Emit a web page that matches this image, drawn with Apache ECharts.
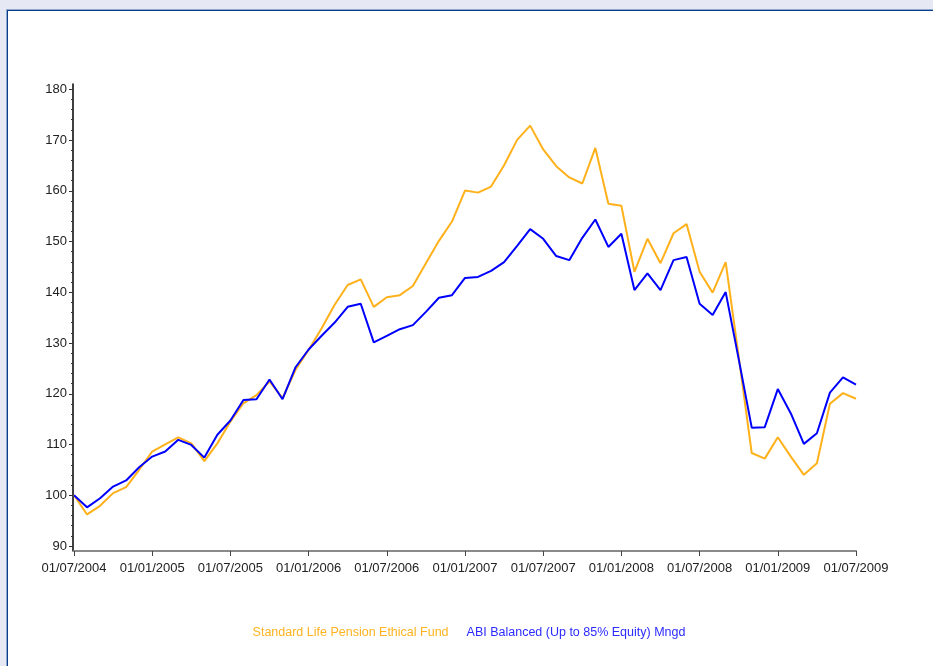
<!DOCTYPE html>
<html>
<head>
<meta charset="utf-8">
<script src="https://cdn.jsdelivr.net/npm/echarts@6/dist/echarts.min.js"></script>
<style>
  html, body { margin: 0; padding: 0; width: 933px; height: 666px; overflow: hidden; background: #e6e9f3; }
  #frame { position: absolute; left: 6px; top: 9px; width: 940px; height: 680px; background: #ffffff;
           border-left: 1px solid #8fa6cf; border-top: 1px solid #8fa6cf; box-shadow: inset 1px 1px 0 #0a3f88; }
  #chart { position: absolute; left: 0; top: 0; width: 933px; height: 666px; }
</style>
</head>
<body>
<div id="frame"></div>
<div id="chart"></div>
<script>
const categories = [
  "01/07/2004","01/08/2004","01/09/2004","01/10/2004","01/11/2004","01/12/2004",
  "01/01/2005","01/02/2005","01/03/2005","01/04/2005","01/05/2005","01/06/2005",
  "01/07/2005","01/08/2005","01/09/2005","01/10/2005","01/11/2005","01/12/2005",
  "01/01/2006","01/02/2006","01/03/2006","01/04/2006","01/05/2006","01/06/2006",
  "01/07/2006","01/08/2006","01/09/2006","01/10/2006","01/11/2006","01/12/2006",
  "01/01/2007","01/02/2007","01/03/2007","01/04/2007","01/05/2007","01/06/2007",
  "01/07/2007","01/08/2007","01/09/2007","01/10/2007","01/11/2007","01/12/2007",
  "01/01/2008","01/02/2008","01/03/2008","01/04/2008","01/05/2008","01/06/2008",
  "01/07/2008","01/08/2008","01/09/2008","01/10/2008","01/11/2008","01/12/2008",
  "01/01/2009","01/02/2009","01/03/2009","01/04/2009","01/05/2009","01/06/2009",
  "01/07/2009"
];
const seriesNames = ["Standard Life Pension Ethical Fund", "ABI Balanced (Up to 85% Equity) Mngd"];
const ethicalFund = [
  100, 96.2, 97.9, 100.4, 101.6, 105.0, 108.6, 110.0, 111.4, 110.2, 106.7, 110.2,
  114.5, 118.1, 119.7, 122.4, 119.1, 124.7, 128.6, 132.9, 137.5, 141.4, 142.5, 137.1,
  139.0, 139.4, 141.2, 145.7, 150.1, 153.9, 160.0, 159.6, 160.8, 165.0, 170.0, 172.8,
  168.1, 164.8, 162.6, 161.4, 168.4, 157.4, 157.0, 144.0, 150.5, 145.7, 151.6, 153.4,
  144.0, 139.9, 145.9, 127.3, 108.3, 107.2, 111.4, 107.6, 104.0, 106.3, 118.0, 120.1,
  119.0
];
const abiBalanced = [
  100, 97.6, 99.4, 101.7, 102.9, 105.5, 107.6, 108.6, 110.9, 109.9, 107.4, 111.9,
  114.7, 118.75, 118.9, 122.8, 118.9, 125.2, 128.7, 131.4, 134.0, 137.1, 137.7, 130.1,
  131.4, 132.7, 133.5, 136.1, 138.9, 139.4, 142.8, 143.0, 144.2, 145.9, 149.1, 152.4,
  150.5, 147.1, 146.3, 150.7, 154.3, 148.9, 151.5, 140.4, 143.7, 140.4, 146.3, 146.9,
  137.7, 135.5, 140.0, 126.8, 113.3, 113.4, 120.9, 116.1, 110.1, 112.2, 120.2, 123.2,
  121.8
];
const seriesColors = ["#ffb11b", "#0000ff"];
const legendColors = ["#ffb31f", "#2b2bff"];

const font = "'Liberation Sans', Arial, sans-serif";
const chart = echarts.init(document.getElementById('chart'), null, { renderer: 'canvas' });
chart.setOption({
  animation: false,
  backgroundColor: 'transparent',
  legend: {
    left: 'center',
    top: 621,
    icon: 'rect',
    itemWidth: 0,
    itemHeight: 0,
    itemGap: 13,
    textStyle: { fontFamily: font, fontSize: 12.5 },
    data: seriesNames.map((n, i) => ({ name: n, textStyle: { color: legendColors[i] } }))
  },
  grid: [
    { left: 74, right: 77, top: 84, bottom: 115 },
    { left: 74, right: 77, top: 89.3, bottom: 120 }
  ],
  xAxis: [
    {
      gridIndex: 0, type: 'category', data: categories, boundaryGap: false,
      axisLine: { show: true, lineStyle: { color: '#8a8a8a', width: 2 } },
      axisTick: { show: true, interval: 5, length: 5, lineStyle: { color: '#444', width: 1 } },
      axisLabel: { interval: 5, margin: 11, color: '#222', fontFamily: font, fontSize: 13 },
      splitLine: { show: false }
    },
    { gridIndex: 1, type: 'category', data: categories, boundaryGap: false, show: false }
  ],
  yAxis: [
    {
      gridIndex: 0, type: 'value', min: 89, max: 181, offset: 1,
      axisLine: { show: true, lineStyle: { color: '#000', width: 1.5 } },
      axisTick: { show: false }, axisLabel: { show: false }, splitLine: { show: false }
    },
    {
      gridIndex: 1, type: 'value', min: 90, max: 180, interval: 10, offset: 1,
      axisLine: { show: false },
      axisTick: { show: true, length: 4, lineStyle: { color: '#333', width: 1 } },
      minorTick: { show: true, splitNumber: 5, length: 2, lineStyle: { color: '#333', width: 1 } },
      axisLabel: { margin: 6, color: '#222', fontFamily: font, fontSize: 13 },
      splitLine: { show: false }, minorSplitLine: { show: false }
    }
  ],
  series: [
    {
      name: seriesNames[0], type: 'line', data: ethicalFund, xAxisIndex: 0, yAxisIndex: 0,
      showSymbol: false, symbol: 'none', lineStyle: { color: seriesColors[0], width: 2 },
      itemStyle: { color: seriesColors[0] }
    },
    {
      name: seriesNames[1], type: 'line', data: abiBalanced, xAxisIndex: 0, yAxisIndex: 0,
      showSymbol: false, symbol: 'none', lineStyle: { color: seriesColors[1], width: 2 },
      itemStyle: { color: seriesColors[1] }
    }
  ]
});
</script>
</body>
</html>
